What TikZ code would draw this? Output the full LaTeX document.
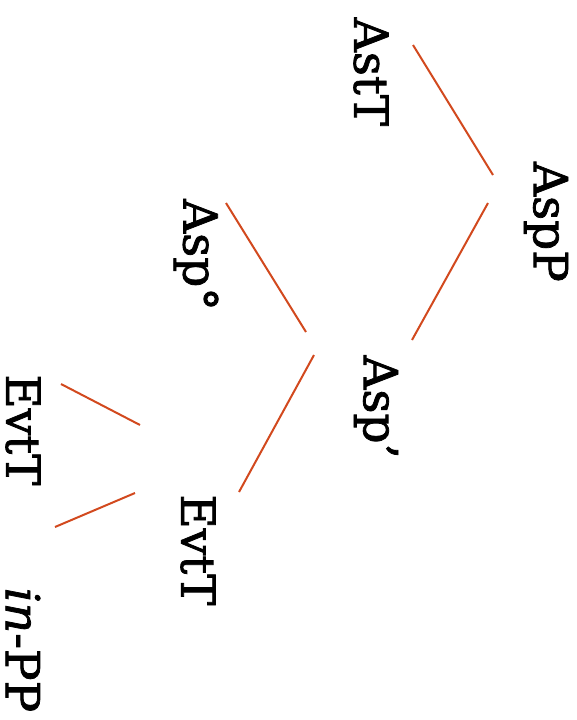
\documentclass[tikz,border=0pt]{standalone}
\usepackage{fontspec}
\setmainfont{DejaVu Serif}[FakeBold=1.6]
\begin{document}
\begin{tikzpicture}[x=1pt,y=-1pt,
  lab/.style={rotate=-90,inner sep=0pt,font=\fontsize{47}{50}\selectfont},
  edge/.style={draw={rgb,255:red,210;green,73;blue,30},line width=2pt}]
\useasboundingbox (0,0) rectangle (577,720);
\node[lab] (AstT) at (371,72) {AstT};
\node[lab] (AspP) at (546,222) {AspP};
\node[lab] (Asp0) at (196,255) {Asp°};
\node[lab] (Aspb) at (376,407) {Asp’};
\node[lab] (EvtL) at (23,430) {EvtT};
\node[lab] (EvtM) at (198,550) {EvtT};
\node[lab] (inPP) at (23,650) {\textit{in}-PP};
\draw[edge] ([shift={(42,-27)}]AstT.center) -- ([shift={(-53,-47)}]AspP.center);
\draw[edge] ([shift={(-58,-19)}]AspP.center) -- ([shift={(36,-67)}]Aspb.center);
\draw[edge] ([shift={(30,-52)}]Asp0.center) -- ([shift={(-70,-75)}]Aspb.center);
\draw[edge] ([shift={(-62,-52)}]Aspb.center) -- ([shift={(41,-58)}]EvtM.center);
\draw[edge] ([shift={(38,-46)}]EvtL.center) -- ([shift={(-58,-125)}]EvtM.center);
\draw[edge] ([shift={(32,-123)}]inPP.center) -- ([shift={(-63,-57)}]EvtM.center);
\end{tikzpicture}
\end{document}
